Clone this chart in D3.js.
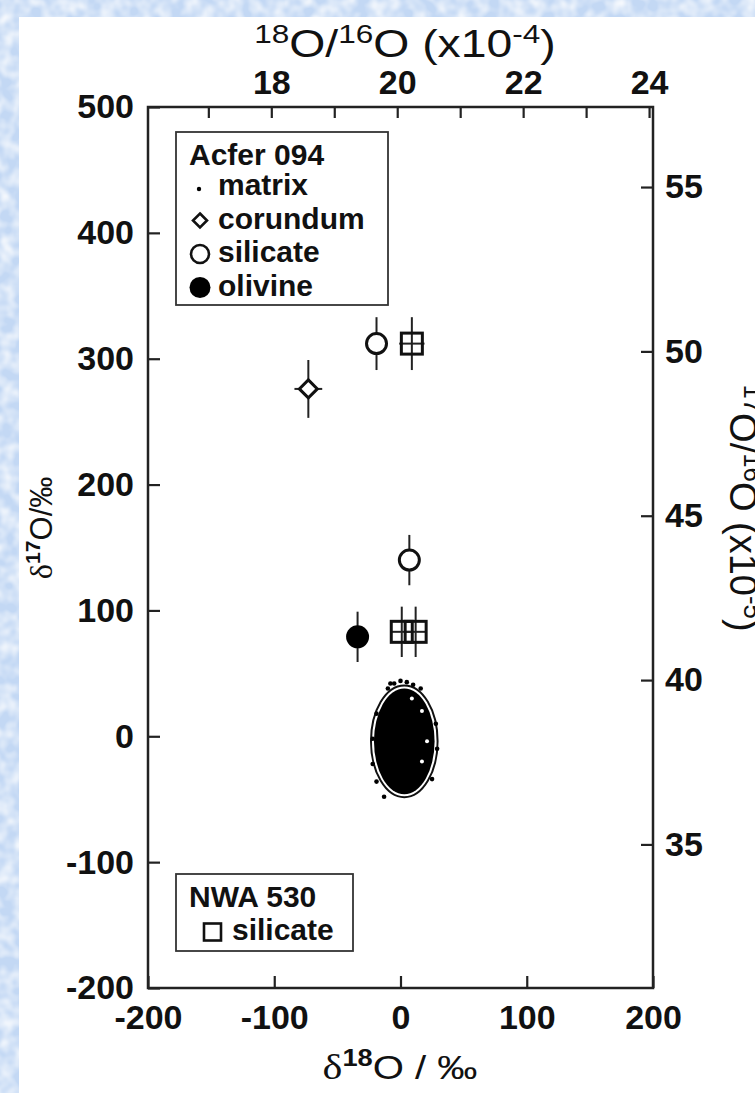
<!DOCTYPE html>
<html>
<head>
<meta charset="utf-8">
<script src="https://cdn.jsdelivr.net/npm/d3@7"></script>
<style>
body { margin: 0; background: #fff; }
svg { display: block; }
</style>
</head>
<body>
<script>
// values, per mil
const acferCorundum = [{x: -73, y: 276, ex: 11, ey: 23}];
const acferSilicate = [{x: -19, y: 312, ex: 8, ey: 21}, {x: 7, y: 140, ex: 8, ey: 20}];
const acferOlivine = [{x: -34, y: 79, ex: 8, ey: 20}];
const nwaSilicate = [{x: 9, y: 312, ex: 10, ey: 21}, {x: 1, y: 83, ex: 8, ey: 20}, {x: 12, y: 83, ex: 8, ey: 20}];
// matrix cloud: centre and half widths
const matrixCloud = {cx: 3, cy: -4, rx: 24, ry: 42};
const matrixEdge = [[-8, 46], [-3, 48], [2, 47], [7, 45], [-13, 42], [13, 42], [-11, 46], [-22, 22], [-25, 2], [-25, -18], [-22, -32], [25, 14], [26, -6], [22, -30], [-16, -44]];
const matrixGaps = [[14, 24], [18, 0], [14, -16], [6, 34]];

const xTicks = [-200, -100, 0, 100, 200];
const yTicks = [-200, -100, 0, 100, 200, 300, 400, 500];
const topTicks = [17, 18, 19, 20, 21, 22, 23, 24];
const rightTicks = [35, 40, 45, 50, 55];
const legendAcfer = ["matrix", "corundum", "silicate", "olivine"];
const legendNwa = ["silicate"];

const R18 = 20.052, R17 = 38.29;   // SMOW ratios (x10-4, x10-5)

const W = 755, H = 1093;
const svg = d3.select("body").append("svg").attr("width", W).attr("height", H);
const defs = svg.append("defs");

// mottled blue page background
const flt = defs.append("filter").attr("id", "mottle").attr("x", 0).attr("y", 0).attr("width", 1).attr("height", 1);
flt.append("feTurbulence").attr("type", "fractalNoise").attr("baseFrequency", 0.07).attr("numOctaves", 2).attr("seed", 3);
flt.append("feColorMatrix").attr("type", "matrix")
    .attr("values", "0 0 0 0 1  0 0 0 0 1  0 0 0 0 1  0 0 0 1.6 -0.55");
svg.append("rect").attr("width", W).attr("height", H).attr("fill", "#c3d8f4");
svg.append("rect").attr("width", W).attr("height", H).attr("filter", "url(#mottle)");
svg.append("rect").attr("x", 19).attr("y", 17).attr("width", W - 19).attr("height", H - 17).attr("fill", "#fff");

const x = d3.scaleLinear().domain([-200, 200]).range([148, 653]);
const y = d3.scaleLinear().domain([-200, 500]).range([988, 107]);
const xTop = d3.scaleLinear().domain(x.domain().map(d => (d / 1000 + 1) * R18)).range(x.range());
const yRight = d3.scaleLinear().domain(y.domain().map(d => (d / 1000 + 1) * R17)).range(y.range());

const tickFont = "'Liberation Sans', Arial, sans-serif";
const plain = d => String(d);   // hyphen minus like the original

function styleAxis(g) {
    g.select(".domain").remove();
    g.selectAll(".tick line").attr("stroke", "#222").attr("stroke-width", 2.2);
    g.selectAll(".tick text").attr("fill", "#111")
        .attr("font-family", tickFont).attr("font-weight", "bold").attr("font-size", 34);
}

svg.append("g").attr("transform", "translate(0,988)")
    .call(d3.axisBottom(x).tickValues(xTicks).tickSize(-12).tickPadding(17).tickFormat(plain))
    .call(styleAxis);

svg.append("g").attr("transform", "translate(148,0)")
    .call(d3.axisLeft(y).tickValues(yTicks).tickSize(-12).tickPadding(14).tickFormat(plain))
    .call(styleAxis);

svg.append("g").attr("transform", "translate(0,107)")
    .call(d3.axisTop(xTop).tickValues(topTicks).tickSize(-11).tickPadding(13)
        .tickFormat(d => d % 2 === 0 ? d : ""))
    .call(styleAxis);

svg.append("g").attr("transform", "translate(653,0)")
    .call(d3.axisRight(yRight).tickValues(rightTicks).tickSize(-12).tickPadding(12))
    .call(styleAxis);

// frame
svg.append("rect")
    .attr("x", x(-200)).attr("y", y(500))
    .attr("width", x(200) - x(-200)).attr("height", y(-200) - y(500))
    .attr("fill", "none").attr("stroke", "#222").attr("stroke-width", 2.5);

// axis titles
function supText(g, parts, size) {
    const t = g.append("text").attr("text-anchor", "middle").attr("fill", "#111")
        .attr("font-family", tickFont).attr("font-size", size);
    parts.forEach(p => {
        const s = t.append("tspan").text(p.t);
        if (p.sup) s.attr("font-size", size * 0.68).attr("dy", -size * 0.36);
        if (p.after) s.attr("dy", size * 0.36);
        if (p.serif) s.attr("font-family", "'Liberation Serif', 'DejaVu Serif', serif").attr("font-size", size * 1.05).attr("dy", size * 0.05);
        if (p.bold) s.attr("font-weight", "bold");
    });
    return t;
}

supText(svg.append("g").attr("transform", "translate(405,57) scale(1.22,1)"), [
    {t: "18", sup: true}, {t: "O/", after: true}, {t: "16", sup: true}, {t: "O (x10", after: true},
    {t: "-4", sup: true}, {t: ")", after: true}
], 38);

supText(svg.append("g").attr("transform", "translate(400,1077) scale(1.18,1)"), [
    {t: "\u03b4", serif: true}, {t: "18", sup: true, bold: true}, {t: "O / \u2030", after: true}
], 34);

supText(svg.append("g").attr("transform", "translate(50,528) rotate(-90)"), [
    {t: "\u03b4", serif: true}, {t: "17", sup: true, bold: true}, {t: "O/\u2030", after: true}
], 31);

supText(svg.append("g").attr("transform", "translate(730,508) rotate(90)"), [
    {t: "17", sup: true}, {t: "O/", after: true}, {t: "16", sup: true}, {t: "O (x10", after: true},
    {t: "-5", sup: true}, {t: ")", after: true}
], 38);

// matrix cloud
const mc = svg.append("g");
mc.append("ellipse")
    .attr("cx", x(matrixCloud.cx)).attr("cy", y(matrixCloud.cy))
    .attr("rx", x(matrixCloud.rx) - x(0) + 3).attr("ry", y(0) - y(matrixCloud.ry) + 3)
    .attr("fill", "#fff").attr("stroke", "#111").attr("stroke-width", 2);
mc.append("ellipse")
    .attr("cx", x(matrixCloud.cx)).attr("cy", y(matrixCloud.cy))
    .attr("rx", x(matrixCloud.rx) - x(0)).attr("ry", y(0) - y(matrixCloud.ry))
    .attr("fill", "#000");
mc.selectAll(".gap").data(matrixGaps).enter().append("circle")
    .attr("cx", d => x(matrixCloud.cx + d[0])).attr("cy", d => y(matrixCloud.cy + d[1]))
    .attr("r", 2).attr("fill", "#fff");
mc.selectAll(".dot").data(matrixEdge).enter().append("circle")
    .attr("cx", d => x(matrixCloud.cx + d[0])).attr("cy", d => y(matrixCloud.cy + d[1]))
    .attr("r", 2.3).attr("fill", "#000");

// error bars
const allPoints = [].concat(acferCorundum, acferSilicate, acferOlivine, nwaSilicate);
const eb = svg.append("g").attr("stroke", "#222").attr("stroke-width", 2);
eb.selectAll(".v").data(allPoints).enter().append("line")
    .attr("x1", d => x(d.x)).attr("x2", d => x(d.x))
    .attr("y1", d => y(d.y - d.ey)).attr("y2", d => y(d.y + d.ey));
eb.selectAll(".h").data(allPoints).enter().append("line")
    .attr("x1", d => x(d.x - d.ex)).attr("x2", d => x(d.x + d.ex))
    .attr("y1", d => y(d.y)).attr("y2", d => y(d.y));

// symbols
const diamond = s => `M0,${-s}L${s},0L0,${s}L${-s},0Z`;

svg.selectAll(".cor").data(acferCorundum).enter().append("path")
    .attr("transform", d => `translate(${x(d.x)},${y(d.y)})`)
    .attr("d", diamond(9)).attr("fill", "#fff").attr("stroke", "#111").attr("stroke-width", 3);

svg.selectAll(".sil").data(acferSilicate).enter().append("circle")
    .attr("cx", d => x(d.x)).attr("cy", d => y(d.y)).attr("r", 10)
    .attr("fill", "#fff").attr("stroke", "#111").attr("stroke-width", 3);

svg.selectAll(".oli").data(acferOlivine).enter().append("circle")
    .attr("cx", d => x(d.x)).attr("cy", d => y(d.y)).attr("r", 11.5)
    .attr("fill", "#000");

svg.selectAll(".nwa").data(nwaSilicate).enter().append("rect")
    .attr("x", d => x(d.x) - 10.5).attr("y", d => y(d.y) - 10.5)
    .attr("width", 21).attr("height", 21)
    .attr("fill", "none").attr("stroke", "#111").attr("stroke-width", 3);

// legends
const legText = (g, xx, yy, txt) => g.append("text").attr("x", xx).attr("y", yy).text(txt)
    .attr("font-family", tickFont).attr("font-weight", "bold").attr("font-size", 30).attr("fill", "#111");

const lg1 = svg.append("g");
lg1.append("rect").attr("x", 176).attr("y", 132).attr("width", 212).attr("height", 173)
    .attr("fill", "#fff").attr("stroke", "#333").attr("stroke-width", 1.8);
legText(lg1, 189, 165, "Acfer 094");
legendAcfer.forEach((name, i) => {
    const cy = 187 + i * 33.5;
    legText(lg1, 218, cy + 8, name);
    if (name === "matrix") lg1.append("circle").attr("cx", 199).attr("cy", cy + 2).attr("r", 2.2).attr("fill", "#000");
    if (name === "corundum") lg1.append("path").attr("transform", `translate(200,${cy})`).attr("d", diamond(7))
        .attr("fill", "#fff").attr("stroke", "#111").attr("stroke-width", 2.6);
    if (name === "silicate") lg1.append("circle").attr("cx", 200).attr("cy", cy).attr("r", 9)
        .attr("fill", "#fff").attr("stroke", "#111").attr("stroke-width", 2.6);
    if (name === "olivine") lg1.append("circle").attr("cx", 200).attr("cy", cy).attr("r", 10.5).attr("fill", "#000");
});

const lg2 = svg.append("g");
lg2.append("rect").attr("x", 176).attr("y", 874).attr("width", 177).attr("height", 77)
    .attr("fill", "#fff").attr("stroke", "#333").attr("stroke-width", 1.8);
legText(lg2, 189, 907, "NWA 530");
legendNwa.forEach((name, i) => {
    const cy = 932 + i * 33;
    lg2.append("rect").attr("x", 204).attr("y", cy - 8.5).attr("width", 17).attr("height", 17)
        .attr("fill", "none").attr("stroke", "#111").attr("stroke-width", 2.6);
    legText(lg2, 232, cy + 8, name);
});
</script>
</body>
</html>
